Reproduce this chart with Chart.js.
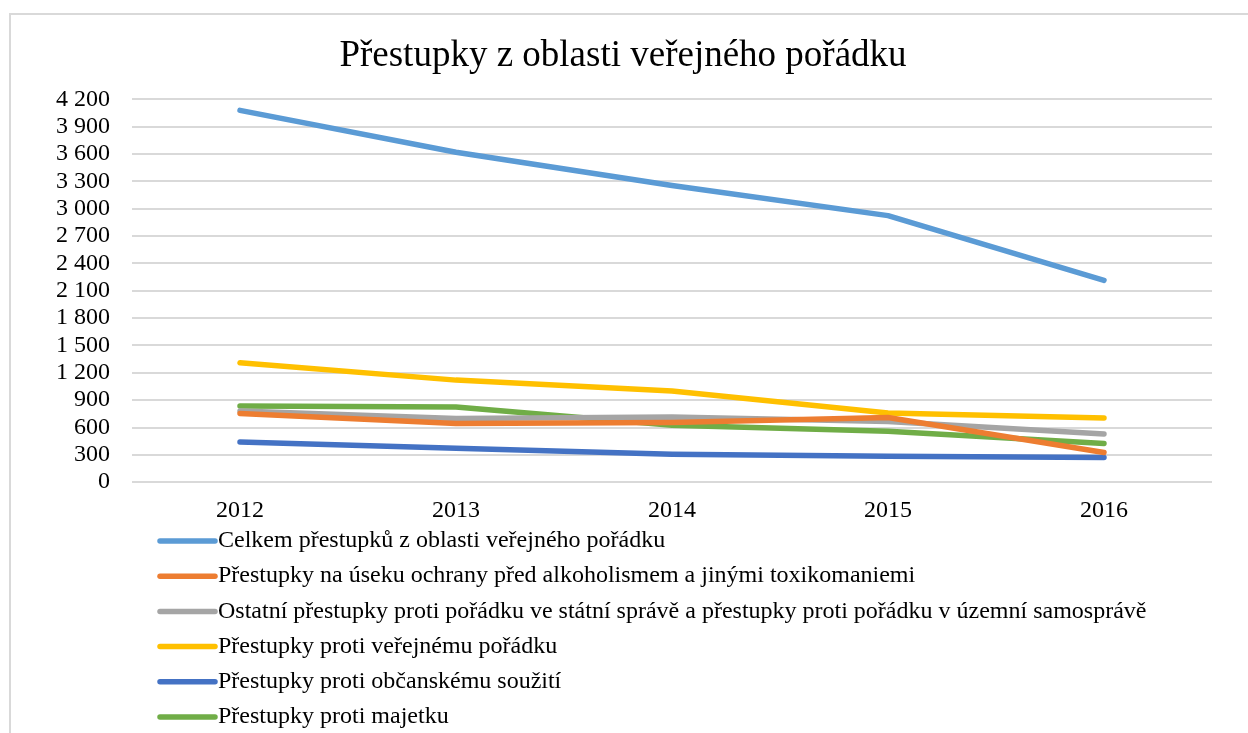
<!DOCTYPE html>
<html>
<head>
<meta charset="utf-8">
<script src="https://cdn.jsdelivr.net/npm/chart.js@4"></script>
<style>
  html, body { margin: 0; padding: 0; background: #fff; }
  #wrap { width: 1248px; height: 733px; }
</style>
</head>
<body>
<div id="wrap"><canvas id="prestupky"></canvas></div>
<script>
// data
const years = ['2012', '2013', '2014', '2015', '2016'];
const celkem = [4080, 3620, 3255, 2925, 2215];
const alkohol = [755, 645, 655, 710, 325];
const ostatni = [780, 700, 715, 665, 530];
const verejnyPoradek = [1310, 1120, 1000, 760, 705];
const obcanskeSouziti = [440, 372, 306, 284, 272];
const majetek = [835, 825, 625, 560, 425];

const seriesNames = [
  'Celkem přestupků z oblasti veřejného pořádku',
  'Přestupky na úseku ochrany před alkoholismem a jinými toxikomaniemi',
  'Ostatní přestupky proti pořádku ve státní správě a přestupky proti pořádku v územní samosprávě',
  'Přestupky proti veřejnému pořádku',
  'Přestupky proti občanskému soužití',
  'Přestupky proti majetku'
];
const seriesColors = ['#5b9bd5', '#ed7d31', '#a5a5a5', '#ffc000', '#4472c4', '#70ad47'];
const seriesValues = [celkem, alkohol, ostatni, verejnyPoradek, obcanskeSouziti, majetek];

const serif = "'Liberation Serif', 'Times New Roman', serif";

// thousands with a space, like the czech excel format
function fmt(v) {
  return String(v).replace(/\B(?=(\d{3})+(?!\d))/g, ' ');
}

// frame round the chart
const framePlugin = {
  id: 'frame',
  beforeDraw(chart) {
    const ctx = chart.ctx;
    ctx.save();
    ctx.fillStyle = '#ffffff';
    ctx.fillRect(0, 0, chart.width, chart.height);
    ctx.strokeStyle = '#d9d9d9';
    ctx.lineWidth = 2;
    ctx.strokeRect(10, 14, chart.width + 20, chart.height + 20);
    ctx.restore();
  }
};

// legend one item per row, under the x axis
const listLegend = {
  id: 'listLegend',
  afterDraw(chart) {
    const ctx = chart.ctx;
    const x0 = 160;
    let y = chart.scales.x.bottom + 2;
    ctx.save();
    ctx.font = '24px ' + serif;
    ctx.textBaseline = 'middle';
    chart.data.datasets.forEach(ds => {
      ctx.strokeStyle = ds.borderColor;
      ctx.lineWidth = 5.5;
      ctx.lineCap = 'round';
      ctx.beginPath();
      ctx.moveTo(x0, y);
      ctx.lineTo(x0 + 55, y);
      ctx.stroke();
      ctx.fillStyle = '#000000';
      ctx.fillText(ds.label, x0 + 58, y);
      y += 35.2;
    });
    ctx.restore();
  }
};

const datasets = seriesNames.map((name, i) => ({
  label: name,
  data: seriesValues[i],
  borderColor: seriesColors[i],
  backgroundColor: seriesColors[i],
  borderWidth: 5.5,
  borderCapStyle: 'round',
  borderJoinStyle: 'round',
  pointRadius: 0,
  tension: 0
}));

let context = document.getElementById('prestupky').getContext('2d');
let chart = new Chart(context, {
  type: 'line',
  data: { labels: years, datasets: datasets },
  plugins: [framePlugin, listLegend],
  options: {
    responsive: true,
    maintainAspectRatio: false,
    animation: false,
    layout: {
      padding: { left: 34, right: 36, top: 0, bottom: 194 }
    },
    plugins: {
      legend: { display: false },
      tooltip: { enabled: false },
      title: {
        display: true,
        text: 'Přestupky z oblasti veřejného pořádku',
        color: '#000000',
        font: { family: serif, size: 37, weight: 'normal', lineHeight: 1.2 },
        padding: { top: 34, bottom: 21 }
      }
    },
    scales: {
      y: {
        min: 0,
        max: 4200,
        ticks: {
          stepSize: 300,
          autoSkip: false,
          color: '#000000',
          padding: 22,
          font: { family: serif, size: 24 },
          callback: v => fmt(v)
        },
        grid: { color: '#d9d9d9', lineWidth: 2, drawTicks: false },
        border: { display: false }
      },
      x: {
        offset: true,
        ticks: {
          color: '#000000',
          padding: 14,
          font: { family: serif, size: 24 }
        },
        grid: { display: false, drawTicks: false, offset: true },
        border: { display: false }
      }
    }
  }
});
</script>
</body>
</html>
